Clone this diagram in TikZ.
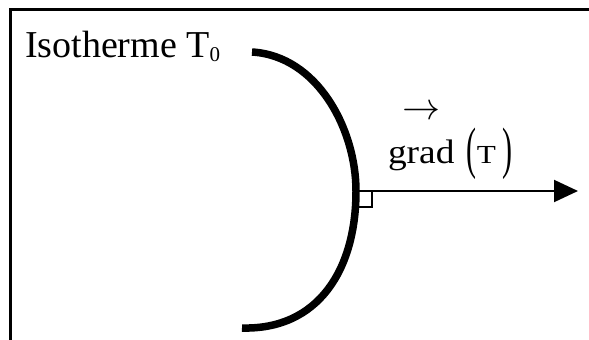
\documentclass[tikz,border=0pt]{standalone}
\usepackage{fontspec}
\setmainfont{Liberation Serif}
\newfontfamily\gradfont[FakeStretch=1.1]{Liberation Serif}
\usetikzlibrary{arrows.meta}
\newcommand{\tallparen}[1]{\raisebox{-4pt}{\fontsize{30}{30}\selectfont\scalebox{1}[1.9]{#1}}}
\tikzset{
  frameline/.style={line width=3pt},
  isoline/.style={line width=7.5pt},
  gradarrow/.style={line width=2pt,-{Triangle[length=24pt,width=22pt]}},
  rightangle/.style={draw,line width=2pt},
  lbl/.style={inner sep=0pt,outer sep=0pt}
}
\begin{document}
\begin{tikzpicture}[x=1pt,y=-1pt]
\useasboundingbox (0,0) rectangle (589,340);
% frame (top and left sides visible)
\draw[frameline] (10.7,341) -- (10.7,9.2) -- (590,9.2);
% isotherm
\coordinate (top) at (252,52);
\coordinate (P) at (356,191);
\coordinate (bot) at (242,328);
\draw[isoline] (top) .. controls (318,56) and (356,130) .. (P)
  .. controls (356,270) and (318,330) .. (bot);
% gradient arrow
\coordinate (tip) at (578,191);
\draw[gradarrow] (P) -- (tip);
\draw[rightangle] (357.5,191) rectangle (371.5,206.5);
% labels
\node[lbl,anchor=base west,font=\fontsize{38}{38}\selectfont] (iso) at (25,57) {Isotherme T\raisebox{-4pt}{\fontsize{21}{21}\selectfont 0}};
\node[lbl,anchor=base west,font=\gradfont\fontsize{34}{34}\selectfont] (grad) at (388,163) {grad};
\node[lbl,anchor=base west] (T) at (466,163) {\tallparen{(}\hspace{1pt}{\fontsize{26}{26}\selectfont\scalebox{1.2}[1]{T}}\hspace{6pt}\tallparen{)}};
\node[lbl] (vec) at (421,113) {\scalebox{3.8}{$\rightarrow$}};
\end{tikzpicture}
\end{document}
